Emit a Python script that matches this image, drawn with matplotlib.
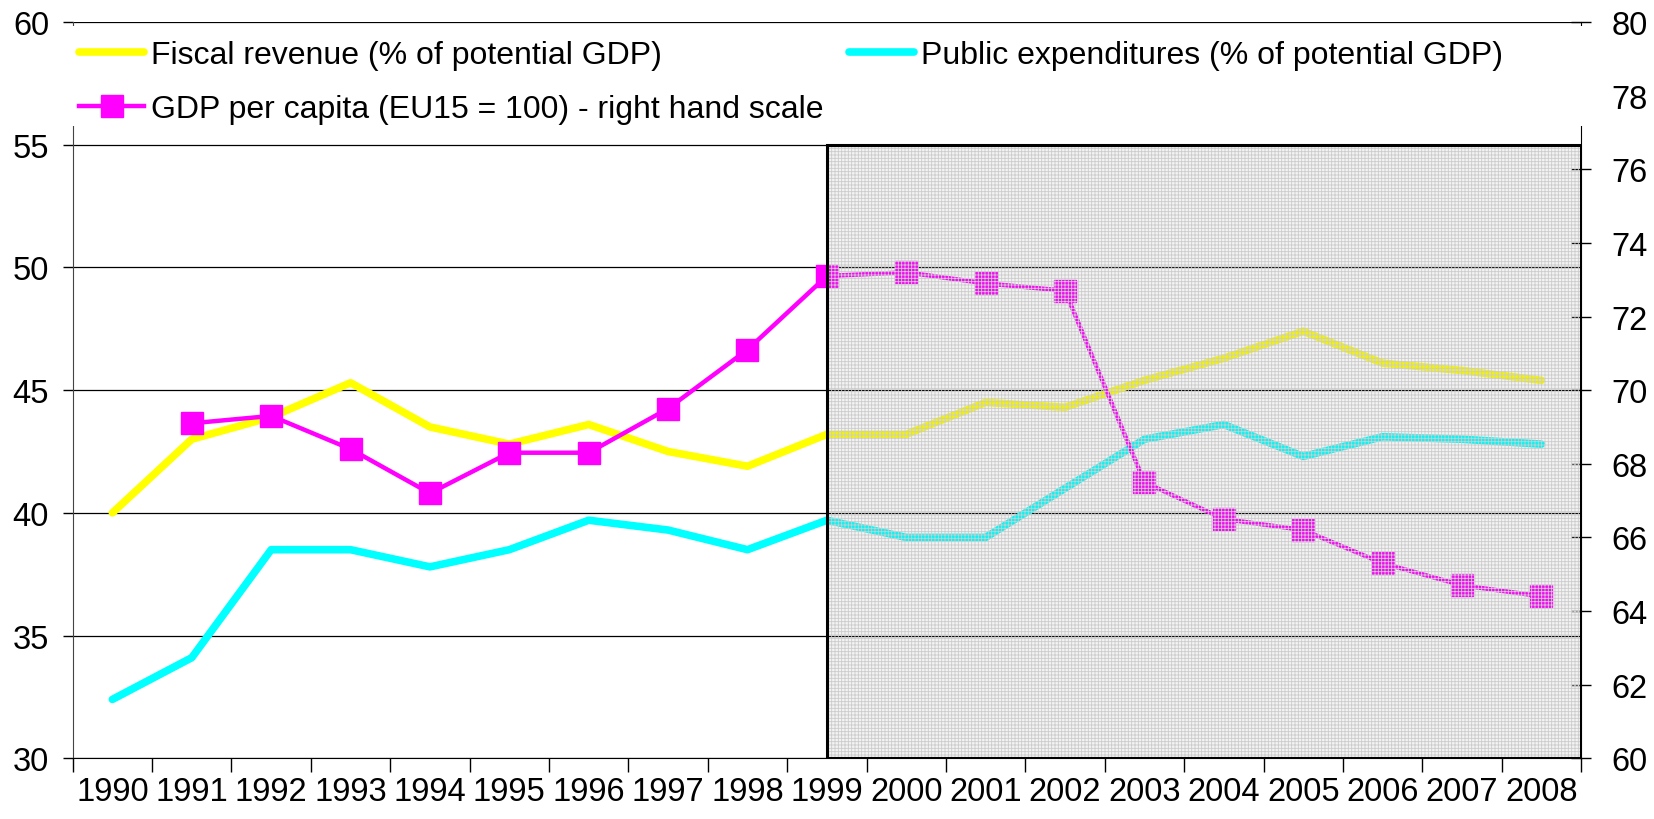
import matplotlib
matplotlib.use("Agg")
import matplotlib.pyplot as plt
import numpy as np
from matplotlib.patches import Rectangle

plt.rcParams['font.family'] = ['Liberation Sans', 'DejaVu Sans']
plt.rcParams['hatch.linewidth'] = 0.6

# Annual series, 1990-2008
years = [1990, 1991, 1992, 1993, 1994, 1995, 1996, 1997, 1998, 1999,
         2000, 2001, 2002, 2003, 2004, 2005, 2006, 2007, 2008]
fiscal_revenue = [40.0, 43.0, 43.9, 45.3, 43.5, 42.8, 43.6, 42.5, 41.9, 43.2,
                  43.2, 44.5, 44.3, 45.4, 46.3, 47.4, 46.1, 45.8, 45.4]
public_expenditures = [32.4, 34.1, 38.5, 38.5, 37.8, 38.5, 39.7, 39.3, 38.5, 39.7,
                       39.0, 39.0, 41.0, 43.0, 43.6, 42.3, 43.1, 43.0, 42.8]
gdp_per_capita = [np.nan, 69.1, 69.3, 68.4, 67.2, 68.3, 68.3, 69.5, 71.1, 73.1,
                  73.2, 72.9, 72.7, 67.5, 66.5, 66.2, 65.3, 64.7, 64.4]

labels = ['Fiscal revenue (% of potential GDP)',
          'Public expenditures (% of potential GDP)',
          'GDP per capita (EU15 = 100) - right hand scale']

left_lim = (30, 60)
right_lim = (60, 80)
shade_from = 1999
shade_top = 55

YELLOW = '#ffff00'
CYAN = '#00ffff'
MAGENTA = '#ff00ff'
TICK_FS = 23.5

fig = plt.figure(figsize=(16.54, 8.2), dpi=100)
ax = fig.add_axes([0.04395, 0.074, 0.9559 - 0.04395, 0.972 - 0.074])

x = np.arange(len(years))
l_rev, = ax.plot(x, fiscal_revenue, color=YELLOW, lw=5.5,
                 solid_capstyle='round', solid_joinstyle='round', zorder=3)
l_exp, = ax.plot(x, public_expenditures, color=CYAN, lw=5.5,
                 solid_capstyle='round', solid_joinstyle='round', zorder=3)

ax.set_xlim(-0.5, len(years) - 0.5)
ax.set_ylim(*left_lim)
ax.set_yticks(np.arange(left_lim[0], left_lim[1] + 1, 5))
ax.yaxis.grid(True, color='black', lw=0.9)
ax.set_axisbelow(True)
ax.set_xticks(x)
ax.set_xticklabels([str(y) for y in years])
ax.set_xticks(np.arange(-0.5, len(years)), minor=True)
ax.tick_params(axis='x', which='major', length=0, pad=12.5, labelsize=TICK_FS)
ax.tick_params(axis='x', which='minor', length=10, width=1)
ax.tick_params(axis='y', length=7.5, width=1, pad=9.5, labelsize=TICK_FS)
ax.spines['top'].set_visible(False)
ax.spines['right'].set_visible(False)
ax.spines['left'].set_color('#444444')

# GDP per capita on its own right-hand scale
ax2 = ax.twinx()
l_gdp, = ax2.plot(x, gdp_per_capita, color=MAGENTA, lw=3.2, marker='s', ms=15.5,
                  zorder=2)
ax2.set_ylim(*right_lim)
ax2.set_yticks(np.arange(right_lim[0], right_lim[1] + 1, 2))
ax2.tick_params(axis='y', direction='inout', length=14, width=1, pad=15,
                labelsize=TICK_FS)
for side in ['top', 'left', 'bottom']:
    ax2.spines[side].set_visible(False)

# hatched grey box over the later years
i0 = years.index(shade_from)
top_frac = (shade_top - left_lim[0]) / (left_lim[1] - left_lim[0])
ax2.axvspan(i0, len(years) - 0.5, ymin=0, ymax=top_frac,
            facecolor=(0.5, 0.5, 0.5, 0.09), edgecolor='#cccccc', lw=0,
            hatch='+++++', zorder=4)
ax2.axvspan(i0, len(years) - 0.5, ymin=0, ymax=top_frac,
            fill=False, edgecolor='black', lw=2.2, zorder=4.1)

# white band behind the legend, hiding the axis lines there
cover = Rectangle((62 / 1654, 0.845), (1595 - 62) / 1654, 0.122,
                  transform=fig.transFigure, facecolor='white',
                  edgecolor='none', zorder=4.5)
fig.add_artist(cover)

fig.legend([l_rev, l_gdp, l_exp], [labels[0], labels[2], labels[1]],
           loc='upper left', bbox_to_anchor=(79 / 1654, 0.950), ncol=2,
           frameon=False, fontsize=23, handlelength=2.05, handletextpad=0.2,
           columnspacing=0.8, labelspacing=0.75, borderpad=0, borderaxespad=0,
           numpoints=1)

fig.savefig('out.png', dpi=100)
